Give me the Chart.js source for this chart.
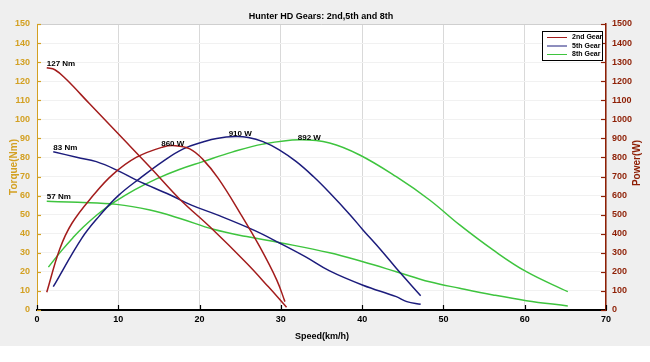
<!DOCTYPE html>
<html>
<head>
<meta charset="utf-8">
<script src="https://cdn.jsdelivr.net/npm/chart.js@4.4.1/dist/chart.umd.min.js"></script>
<style>
  html, body { margin: 0; padding: 0; background: #fff; }
</style>
</head>
<body>
<canvas id="chart" width="650" height="362"></canvas>
<script>
// speeds in km/h, torque in Nm, power in W
const gear2Speed  = [1.2, 2.2, 3.6, 6.5, 10.2, 14, 17.6, 21.3, 25.8, 28.5, 30.7];
const gear2Torque = [127, 126, 121, 108, 91.5, 74.5, 58, 43.5, 24.5, 12, 1.5];
const gear2PSpeed = [1.2, 2.8, 4.3, 6.9, 9.3, 12.2, 15.5, 17, 18.8, 20.4, 22.3, 25, 27.4, 29.5, 30.5];
const gear2Power  = [93, 320, 455, 600, 710, 800, 855, 862, 845, 790, 690, 507, 332, 157, 44];

const gear5Speed  = [2, 5, 7.3, 10, 12.3, 16.4, 19, 22.1, 26.6, 29.9, 33, 36, 40.1, 44.2, 45.5, 47.2];
const gear5Torque = [83, 80, 77.8, 73, 68, 60.3, 55, 50, 42, 35, 28, 20.5, 13, 7, 4.4, 3];
const gear5PSpeed = [2, 5.5, 7.7, 10, 12.7, 15.5, 18, 20.5, 22.1, 24.4, 26, 27.8, 29.8, 31.9, 34, 36, 38.5, 40.1, 42.2, 44.2, 47.2];
const gear5Power  = [122, 376, 495, 600, 692, 780, 845, 882, 900, 910, 905, 883, 840, 778, 700, 615, 500, 420, 320, 219, 75];

const gear8Speed  = [1.2, 5, 9.8, 13.9, 17.6, 21.7, 25.8, 29.9, 36, 40.1, 44.2, 48.3, 52, 56.1, 60.2, 65.3];
const gear8Torque = [57, 56.5, 55.4, 52.4, 48, 42.3, 38.5, 35.3, 30, 25.3, 20.1, 14.8, 11.4, 7.9, 4.9, 2.1];
const gear8PSpeed = [1.4, 3, 4.4, 5.7, 7.7, 9.6, 12, 14.7, 17.5, 20.4, 24, 27.8, 32.3, 36, 39.7, 44.2, 48.3, 52, 56.1, 60.2, 65.3];
const gear8Power  = [225, 310, 378, 435, 510, 568, 630, 688, 737, 778, 828, 870, 893, 876, 813, 699, 577, 446, 315, 201, 96];

const gearNames  = ['2nd Gear', '5th Gear', '8th Gear'];
const gearColors = ['#a31c1c', '#1c1c7c', '#3ec43e'];

// peak labels: text, speed, value, axis
const noteText  = ['127 Nm', '83 Nm', '57 Nm', '860 W', '910 W', '892 W'];
const noteSpeed = [1.2, 2, 1.2, 16.7, 25, 33.5];
const noteValue = [127, 83, 57, 862, 910, 892];
const noteAxis  = ['yT', 'yT', 'yT', 'yP', 'yP', 'yP'];

const GOLD = '#d3a022';
const BROWN = '#8e1f05';
const FONT = '"Liberation Sans", Arial, sans-serif';

function pairs(xs, ys) {
  return xs.map((x, i) => ({ x: x, y: ys[i] }));
}

function line(label, xs, ys, color, axis) {
  return {
    label: label,
    data: pairs(xs, ys),
    borderColor: color,
    borderWidth: 1.5,
    pointRadius: 0,
    fill: false,
    tension: 0.4,
    yAxisID: axis
  };
}

const bgPlugin = {
  id: 'bg',
  beforeDraw(chart) {
    const ctx = chart.ctx, a = chart.chartArea;
    ctx.save();
    ctx.fillStyle = '#efefef';
    ctx.fillRect(0, 0, chart.width, 346);
    ctx.fillStyle = '#ffffff';
    ctx.fillRect(0, 346, chart.width, chart.height - 346);
    ctx.fillRect(a.left, a.top, a.right - a.left, a.bottom - a.top);
    ctx.restore();
  }
};

const decoPlugin = {
  id: 'deco',
  afterDraw(chart) {
    const ctx = chart.ctx, a = chart.chartArea;
    const sx = chart.scales.x, sT = chart.scales.yT, sP = chart.scales.yP;
    ctx.save();

    // top border
    ctx.strokeStyle = '#cfcfcf';
    ctx.lineWidth = 1;
    ctx.beginPath();
    ctx.moveTo(a.left, a.top + 0.5);
    ctx.lineTo(a.right, a.top + 0.5);
    ctx.stroke();

    // inward tick marks
    ctx.lineWidth = 1.2;
    ctx.strokeStyle = '#000';
    sx.ticks.forEach(t => {
      const px = Math.round(sx.getPixelForValue(t.value)) + 0.5;
      ctx.beginPath(); ctx.moveTo(px, a.bottom); ctx.lineTo(px, a.bottom - 5); ctx.stroke();
    });
    ctx.strokeStyle = GOLD;
    sT.ticks.forEach(t => {
      const py = Math.round(sT.getPixelForValue(t.value)) + 0.5;
      ctx.beginPath(); ctx.moveTo(a.left, py); ctx.lineTo(a.left + 4, py); ctx.stroke();
    });
    ctx.strokeStyle = BROWN;
    sP.ticks.forEach(t => {
      const py = Math.round(sP.getPixelForValue(t.value)) + 0.5;
      ctx.beginPath(); ctx.moveTo(a.right, py); ctx.lineTo(a.right - 5, py); ctx.stroke();
    });

    // titles
    ctx.fillStyle = '#000';
    ctx.font = 'bold 9px ' + FONT;
    ctx.textAlign = 'center';
    ctx.textBaseline = 'middle';
    ctx.fillText('Hunter HD Gears: 2nd,5th and 8th', 321, 17);
    ctx.fillText('Speed(km/h)', 322, 337);

    ctx.save();
    ctx.translate(14, 167);
    ctx.rotate(-Math.PI / 2);
    ctx.fillStyle = GOLD;
    ctx.font = 'bold 10px ' + FONT;
    ctx.fillText('Torque(Nm)', 0, 0);
    ctx.restore();

    ctx.save();
    ctx.translate(637, 163);
    ctx.rotate(-Math.PI / 2);
    ctx.fillStyle = BROWN;
    ctx.font = 'bold 10px ' + FONT;
    ctx.fillText('Power(W)', 0, 0);
    ctx.restore();

    // peak labels
    ctx.fillStyle = '#000';
    ctx.font = 'bold 8px ' + FONT;
    ctx.textBaseline = 'alphabetic';
    noteText.forEach((txt, i) => {
      const px = sx.getPixelForValue(noteSpeed[i]);
      const py = chart.scales[noteAxis[i]].getPixelForValue(noteValue[i]);
      if (noteAxis[i] === 'yT') {
        ctx.textAlign = 'left';
        ctx.fillText(txt, px, py - 2);
      } else {
        ctx.textAlign = 'center';
        ctx.fillText(txt, px, py);
      }
    });

    // legend box
    const lx = 542, ly = 31, lw = 60, lh = 29;
    ctx.fillStyle = '#fff';
    ctx.fillRect(lx, ly, lw, lh);
    ctx.strokeStyle = '#000';
    ctx.lineWidth = 1;
    ctx.strokeRect(lx + 0.5, ly + 0.5, lw, lh);
    ctx.font = 'bold 7px ' + FONT;
    ctx.textAlign = 'left';
    ctx.textBaseline = 'middle';
    gearNames.forEach((name, i) => {
      const y = ly + 6.5 + i * 8.5;
      ctx.strokeStyle = gearColors[i];
      ctx.beginPath(); ctx.moveTo(lx + 5, y); ctx.lineTo(lx + 25, y); ctx.stroke();
      ctx.fillStyle = '#000';
      ctx.fillText(name, lx + 30, y);
    });

    ctx.restore();
  }
};

new Chart(document.getElementById('chart'), {
  type: 'line',
  data: {
    datasets: [
      line('2nd Gear torque', gear2Speed, gear2Torque, gearColors[0], 'yT'),
      line('2nd Gear power', gear2PSpeed, gear2Power, gearColors[0], 'yP'),
      line('5th Gear torque', gear5Speed, gear5Torque, gearColors[1], 'yT'),
      line('5th Gear power', gear5PSpeed, gear5Power, gearColors[1], 'yP'),
      line('8th Gear torque', gear8Speed, gear8Torque, gearColors[2], 'yT'),
      line('8th Gear power', gear8PSpeed, gear8Power, gearColors[2], 'yP')
    ]
  },
  options: {
    responsive: false,
    animation: false,
    devicePixelRatio: 1,
    layout: { padding: { top: 24, left: 0, right: 0, bottom: 0 } },
    plugins: {
      legend: { display: false },
      title: { display: false },
      tooltip: { enabled: false }
    },
    scales: {
      x: {
        type: 'linear',
        min: 0, max: 70,
        ticks: { stepSize: 10, color: '#000', padding: 4, font: { family: FONT, size: 9, weight: 'bold' } },
        grid: { color: '#d9d9d9', drawTicks: false },
        border: { color: '#000', width: 2 },
        afterFit(s) { s.height = 52; }
      },
      yT: {
        position: 'left',
        min: 0, max: 150,
        ticks: { stepSize: 10, color: GOLD, padding: 7, font: { family: FONT, size: 9, weight: 'bold' } },
        grid: { color: '#f1f1f1', drawTicks: false },
        border: { color: GOLD, width: 1 },
        afterFit(s) { s.width = 37; }
      },
      yP: {
        position: 'right',
        min: 0, max: 1500,
        ticks: {
          stepSize: 100, color: BROWN, padding: 6,
          font: { family: FONT, size: 9, weight: 'bold' },
          callback: v => String(v)
        },
        grid: { drawOnChartArea: false, drawTicks: false },
        border: { color: BROWN, width: 1.5 },
        afterFit(s) { s.width = 44; }
      }
    }
  },
  plugins: [bgPlugin, decoPlugin]
});
</script>
</body>
</html>
